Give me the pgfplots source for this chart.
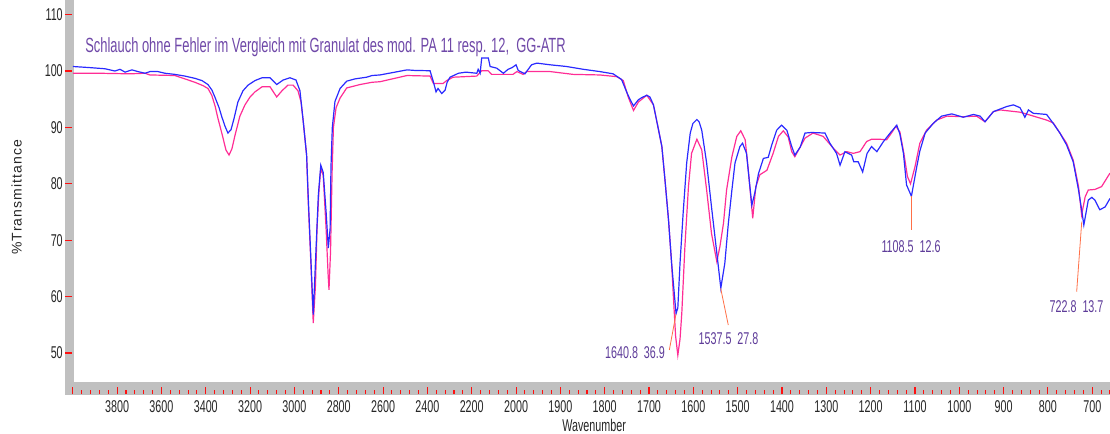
\documentclass[border=0pt]{standalone}
\usepackage{fontspec}
\setmainfont{Liberation Sans}
\newfontfamily\nf[FakeStretch=0.63]{Liberation Sans}
\newfontfamily\yf[LetterSpace=8]{Liberation Sans}
\usepackage{pgfplots}
\pgfplotsset{compat=1.18}

\definecolor{frame}{HTML}{C0C0C0}
\definecolor{tickred}{HTML}{FF1010}
\definecolor{bluecurve}{HTML}{2A2AFF}
\definecolor{pinkcurve}{HTML}{FF2D95}
\definecolor{titlecol}{HTML}{6F48A8}
\definecolor{anncol}{HTML}{5E3C99}
\definecolor{annline}{HTML}{FF7048}

% blue: hose without defect; pink: granulate (wavenumber, %T)
\pgfplotstableread{
wn v
4000 100.8
3922 100.6
3855 100.4
3810 100.0
3787 100.3
3764 99.8
3733 100.2
3706 99.9
3674 99.6
3652 99.9
3616 99.9
3584 99.6
3539 99.4
3494 99.1
3449 98.7
3417 98.3
3390 97.6
3372 96.6
3358 95.3
3340 93.5
3327 91.8
3313 90.2
3300 89.0
3286 89.6
3273 91.5
3255 94.5
3232 96.5
3209 97.5
3178 98.3
3146 98.8
3110 98.8
3080 97.6
3051 98.4
3020 98.8
2993 98.4
2975 96.5
2960 91.0
2945 85.1
2937 77.0
2926 67.0
2915 56.8
2903 68.0
2892 78.0
2881 83.3
2870 82.0
2857 75.0
2847 68.6
2839 72.0
2835 83.0
2829 90.0
2817 94.6
2794 96.9
2764 98.2
2727 98.6
2674 98.9
2650 99.2
2614 99.3
2546 99.8
2492 100.2
2456 100.1
2388 100.05
2373 98.1
2361 96.3
2352 96.9
2335 96.0
2320 96.6
2311 98.0
2298 98.9
2260 99.6
2226 99.8
2177 99.6
2171 100.3
2162 99.6
2155 102.3
2125 102.3
2117 100.8
2087 100.5
2057 99.6
2036 100.3
2018 100.6
2000 101.1
1995 100.1
1980 99.5
1965 101.1
1953 101.4
1923 101.1
1886 100.8
1848 100.3
1811 99.9
1781 99.5
1762 98.5
1750 96.2
1743 95.0
1735 93.8
1724 94.9
1716 95.3
1705 95.7
1698 95.4
1690 94.0
1683 91.3
1671 86.6
1664 80.7
1656 73.6
1649 65.9
1639 57.0
1635 58.0
1630 66.0
1623 74.8
1615 83.7
1607 89.0
1601 90.7
1592 91.4
1587 91.0
1581 89.5
1570 83.7
1559 75.9
1547 67.7
1538 61.5
1529 65.9
1521 73.0
1513 78.9
1506 83.7
1495 86.6
1489 87.2
1480 85.4
1474 80.7
1468 76.2
1461 78.5
1453 81.8
1442 84.5
1431 84.7
1423 86.9
1412 89.5
1401 90.4
1389 89.5
1378 86.6
1371 85.1
1359 86.5
1348 89.0
1333 89.1
1303 89.0
1292 87.2
1277 85.4
1269 83.3
1258 85.7
1243 85.1
1238 83.9
1228 83.9
1218 82.1
1208 85.4
1198 86.6
1186 85.7
1171 87.5
1156 89.0
1141 90.4
1134 88.8
1126 85.4
1119 79.8
1108 77.8
1096 83.0
1089 85.8
1077 89.0
1059 90.7
1040 92.0
1017 92.4
991 91.8
968 92.3
953 92.0
942 91.0
923 92.8
893 93.7
878 94.0
863 93.5
852 91.8
844 93.1
833 92.5
803 92.3
788 90.7
773 89.0
758 86.9
743 83.9
731 78.9
724 75.4
719 72.7
709 77.1
701 77.6
694 77.1
683 75.4
671 75.9
660 77.4
}\blueT

\pgfplotstableread{
wn v
4000 99.6
3877 99.6
3742 99.5
3674 99.6
3652 99.3
3539 99.2
3494 98.6
3449 98.0
3412 97.4
3390 96.9
3373 95.7
3358 93.8
3345 91.6
3331 89.5
3322 88.1
3309 86.0
3295 85.1
3282 86.2
3268 88.6
3246 92.0
3223 94.0
3200 95.4
3178 96.3
3146 97.2
3110 97.2
3080 95.4
3056 96.5
3029 97.5
3006 97.5
2984 96.5
2970 94.5
2960 91.0
2945 85.1
2937 76.2
2926 66.2
2915 55.3
2905 62.0
2898 72.0
2889 79.0
2881 82.7
2870 81.5
2857 72.0
2848 64.0
2844 61.2
2837 68.0
2830 82.0
2824 90.0
2812 93.5
2794 95.2
2764 97.0
2704 97.6
2650 98.0
2614 98.1
2492 99.2
2388 99.1
2373 97.8
2329 97.8
2313 98.3
2284 98.9
2177 99.1
2155 100.05
2126 100.05
2110 99.4
2014 99.4
1998 99.9
1984 99.4
1976 99.9
1923 99.9
1871 99.4
1811 99.3
1773 99.0
1758 98.3
1747 95.4
1735 93.0
1724 94.5
1705 95.7
1690 94.0
1683 91.3
1671 86.6
1664 80.7
1656 73.6
1649 65.9
1645 60.0
1640 53.0
1635 49.6
1630 52.5
1626 57.1
1619 68.9
1611 79.5
1604 85.4
1592 87.9
1581 86.0
1570 78.9
1559 71.2
1547 66.2
1540 68.9
1532 73.0
1525 78.9
1513 84.8
1502 88.4
1493 89.4
1483 87.8
1476 82.4
1466 73.9
1459 79.5
1450 81.6
1434 82.4
1420 85.4
1408 88.4
1397 89.4
1386 88.3
1378 85.7
1371 84.8
1359 86.5
1348 88.1
1330 89.0
1307 88.4
1284 86.3
1269 85.1
1254 85.7
1239 85.4
1224 85.7
1209 87.5
1198 87.9
1179 87.9
1164 87.8
1153 89.0
1143 90.2
1134 89.2
1125 85.4
1117 81.3
1110 80.0
1100 83.0
1089 87.2
1074 89.5
1051 91.3
1028 92.0
991 91.9
961 92.0
942 91.0
923 92.8
908 93.1
863 92.7
841 92.2
803 91.3
788 90.8
773 89.0
758 87.2
743 84.2
731 79.5
724 74.5
716 77.7
709 78.9
694 79.0
679 79.5
660 81.9
}\pinkT

\begin{document}
\begin{tikzpicture}
% grey frame bars of the spectrometer plot
\fill[frame] (-5.85pt,-10.35pt) rectangle (0.6pt,300pt);
\fill[frame] (-5.85pt,-10.35pt) rectangle (800pt,-0.4pt);

\begin{axis}[
  at={(0,0)}, anchor=south west,
  scale only axis, width=777.9pt, height=274.95pt,
  x dir=reverse,
  x coord trafo/.code={\pgfmathparse{#1>2000 ? (#1+2000)/2 : #1}},
  x coord inv trafo/.code={\pgfmathparse{#1>2000 ? 2*#1-2000 : #1}},
  xmin=660, xmax=4000, ymin=45, ymax=110,
  axis x line*=bottom, axis y line*=left,
  axis x line shift=9.6pt, axis y line shift=5.85pt,
  axis line style={draw=none},
  tick align=inside,
  major tick length=5pt,
  xtick style={draw=none},
  ytick style={tickred, line width=0.8pt},
  xtick={4000,3800,3600,3400,3200,3000,2800,2600,2400,2200,2000,1900,1800,1700,1600,1500,1400,1300,1200,1100,1000,900,800,700},
  xticklabels={,3800,3600,3400,3200,3000,2800,2600,2400,2200,2000,1900,1800,1700,1600,1500,1400,1300,1200,1100,1000,900,800,700},
  ytick={50,60,70,80,90,100,110},
  yticklabels={50,60,70,80,90,100,110},
  xticklabel style={font=\nf\fontsize{12.8pt}{14pt}\selectfont, text=black!85, anchor=north, inner sep=0pt, yshift=-4.5pt},
  yticklabel style={font=\nf\fontsize{12.8pt}{14pt}\selectfont, text=black!85, anchor=east, inner sep=0pt, xshift=-1.5pt},
]
\addplot[pinkcurve, line width=0.9pt] table[x=wn, y=v] {\pinkT};
\addplot[bluecurve, line width=0.9pt] table[x=wn, y=v] {\blueT};
\end{axis}

% red ticks inside the grey band (100 transformed units = 33.2436pt)
\foreach \j in {0,...,117} \draw[tickred, line width=0.8pt] ({6.64872pt*\j},-9.6pt) -- ++(0,3pt);
\foreach \k in {0,...,23} \draw[tickred, line width=0.8pt] ({33.2436pt*\k},-9.6pt) -- ++(0,5.25pt);

% title and axis labels
\node[anchor=base west, inner sep=0pt, text=titlecol, font=\nf\fontsize{15.4pt}{17pt}\selectfont]
  at (9.15pt,246.15pt) {Schlauch ohne Fehler im Vergleich mit Granulat des mod. PA 11 resp. 12,\ \ GG-ATR};
\node[anchor=base, inner sep=0pt, text=black!85, font=\nf\fontsize{12.8pt}{14pt}\selectfont]
  at (391pt,-37.7pt) {Wavenumber};
\node[rotate=90, anchor=base, inner sep=0pt, text=black!85, font=\yf\fontsize{10.5pt}{12pt}\selectfont]
  at (-38.3pt,138.15pt) {\%Transmittance};

% peak annotations
\begin{scope}[annline, line width=0.6pt]
\draw (447.4pt,23.4pt) -- (452.4pt,50.4pt);
\draw (485.9pt,69.7pt) -- (491.6pt,42.15pt);
\draw (629.2pt,138.9pt) -- (629.2pt,113.4pt);
\draw (756.7pt,119.6pt) -- (752.9pt,67.1pt);
\end{scope}
\begin{scope}[every node/.style={inner sep=0pt, text=anncol, font=\nf\fontsize{12.8pt}{14pt}\selectfont}]
\node at (421.65pt,21.15pt) {1640.8\ \ 36.9};
\node at (491.8pt,31.65pt) {1537.5\ \ 27.8};
\node at (628.65pt,100.6pt) {1108.5\ \ 12.6};
\node at (752.8pt,55.9pt) {722.8\ \ 13.7};
\end{scope}

\pgfresetboundingbox
\useasboundingbox (-54.6pt,-38.85pt) rectangle (777.9pt,285.9pt);
\end{tikzpicture}
\end{document}
